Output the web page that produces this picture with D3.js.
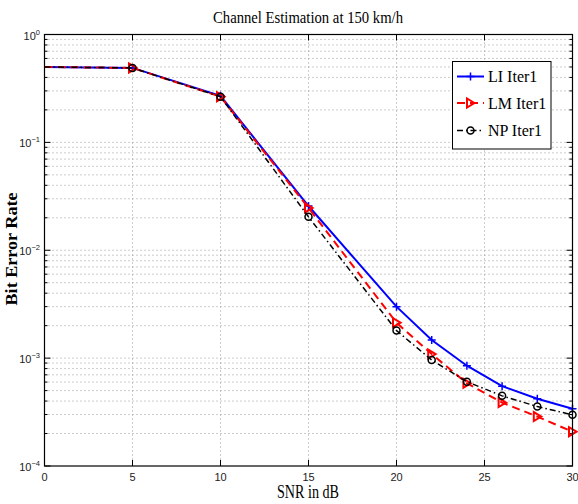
<!DOCTYPE html>
<html>
<head>
<meta charset="utf-8">
<script src="https://cdn.jsdelivr.net/npm/d3@7"></script>
<style>
body { margin: 0; background: #fff; }
</style>
</head>
<body>
<div id="chart"></div>
<script>
var snr = [0, 5, 10, 15, 20, 22, 24, 26, 28, 30]
var li = [0.50, 0.49, 0.27, 0.0257, 0.0030, 0.00147, 0.00085, 0.00055, 0.00042, 0.00034]
var lm = [0.50, 0.49, 0.265, 0.0247, 0.00213, 0.00109, 0.000585, 0.000387, 0.000287, 0.000208]
var np = [0.50, 0.49, 0.265, 0.0204, 0.0018, 0.00096, 0.000605, 0.000447, 0.000356, 0.000298]
var seriesNames = ['LI Iter1', 'LM Iter1', 'NP Iter1']
var xTicks = [0, 5, 10, 15, 20, 25, 30]
var yExps = [0, -1, -2, -3, -4]

var W = 578, H = 504
var pL = 44.5, pR = 572.5, pT = 34.5, pB = 466

var svg = d3.select('#chart').append('svg').attr('width', W).attr('height', H)

var x = d3.scaleLinear().domain([0, 30]).range([pL, pR])
var y = d3.scaleLog().domain([1e-4, 1]).range([pB, pT])

// grid
var minor = []
for (var e = -4; e < 0; e++) {
	for (var m = 1; m < 10; m++) minor.push(m * Math.pow(10, e))
}
svg.append('g').selectAll('line').data(minor.slice(1)).enter().append('line')
	.attr('x1', pL).attr('x2', pR)
	.attr('y1', function(d){return y(d)}).attr('y2', function(d){return y(d)})
	.attr('stroke', '#999').attr('stroke-width', 1).attr('stroke-dasharray', '1,3')
svg.append('g').selectAll('line').data(xTicks.slice(1, -1)).enter().append('line')
	.attr('y1', pT).attr('y2', pB)
	.attr('x1', function(d){return x(d)}).attr('x2', function(d){return x(d)})
	.attr('stroke', '#999').attr('stroke-width', 1).attr('stroke-dasharray', '1,3')

// ticks
var ticks = svg.append('g').attr('stroke', '#000').attr('stroke-width', 1)
xTicks.forEach(function(t) {
	ticks.append('line').attr('x1', x(t)).attr('x2', x(t)).attr('y1', pB).attr('y2', pB - 6)
	ticks.append('line').attr('x1', x(t)).attr('x2', x(t)).attr('y1', pT).attr('y2', pT + 6)
})
minor.forEach(function(d, i) {
	var len = (i % 9 == 0) ? 6 : 3
	ticks.append('line').attr('x1', pL).attr('x2', pL + len).attr('y1', y(d)).attr('y2', y(d))
	ticks.append('line').attr('x1', pR).attr('x2', pR - len).attr('y1', y(d)).attr('y2', y(d))
})

// tick labels
svg.append('g').selectAll('text').data(xTicks).enter().append('text')
	.attr('x', function(d){return x(d)}).attr('y', 481)
	.attr('text-anchor', 'middle')
	.attr('font-family', 'Liberation Sans, Arial, sans-serif').attr('font-size', 11)
	.attr('fill', '#222')
	.text(function(d){return d})

var yl = svg.append('g').selectAll('text').data(yExps).enter().append('text')
	.attr('x', 40).attr('y', function(d){return y(Math.pow(10, d)) + 5})
	.attr('text-anchor', 'end')
	.attr('font-family', 'Liberation Sans, Arial, sans-serif').attr('font-size', 11)
	.attr('fill', '#222')
yl.append('tspan').text('10')
yl.append('tspan').attr('dy', -5).attr('font-size', 7.5)
	.text(function(d){return d == 0 ? '0' : '\u2212' + (-d)})

// lines
var line = d3.line().x(function(d){return x(d[0])}).y(function(d){return y(d[1])})
function pts(vals) { return snr.map(function(s, i){return [s, vals[i]]}) }

var styles = [
	{color: '#0000ff', width: 2, dash: null, marker: 'plus'},
	{color: '#ff0000', width: 2, dash: '8,5', marker: 'tri'},
	{color: '#000000', width: 1.5, dash: '6,3,1.5,3', marker: 'circle'}
]
var allData = [li, lm, np]

function drawMarker(g, kind, cx, cy, color) {
	if (kind == 'plus') {
		g.append('path').attr('d', 'M' + (cx - 4) + ',' + cy + 'H' + (cx + 4) + 'M' + cx + ',' + (cy - 4) + 'V' + (cy + 4))
			.attr('stroke', color).attr('stroke-width', 1.5).attr('fill', 'none')
	} else if (kind == 'tri') {
		g.append('path').attr('d', 'M' + (cx + 4) + ',' + cy + 'L' + (cx - 3.5) + ',' + (cy - 4.5) + 'L' + (cx - 3.5) + ',' + (cy + 4.5) + 'Z')
			.attr('stroke', color).attr('stroke-width', 2).attr('fill', 'none')
	} else {
		g.append('circle').attr('cx', cx).attr('cy', cy).attr('r', 3.5)
			.attr('stroke', color).attr('stroke-width', 1.5).attr('fill', 'none')
	}
}

allData.forEach(function(vals, i) {
	var st = styles[i]
	var g = svg.append('g')
	g.append('path').datum(pts(vals)).attr('d', line)
		.attr('fill', 'none').attr('stroke', st.color).attr('stroke-width', st.width)
		.attr('stroke-dasharray', st.dash)
	pts(vals).forEach(function(p) {
		if (p[0] > 0) drawMarker(g, st.marker, x(p[0]), y(p[1]), st.color)
	})
})

// axes box
svg.append('rect').attr('x', pL).attr('y', pT).attr('width', pR - pL).attr('height', pB - pT)
	.attr('fill', 'none').attr('stroke', '#000').attr('stroke-width', 1.2)

// legend
var lg = svg.append('g')
lg.append('rect').attr('x', 452.5).attr('y', 61.5).attr('width', 98.5).attr('height', 87.5)
	.attr('fill', '#fff').attr('stroke', '#000').attr('stroke-width', 1)
var rowY = [76.5, 103, 130.5]
seriesNames.forEach(function(name, i) {
	var st = styles[i]
	lg.append('line').attr('x1', 457).attr('x2', 484).attr('y1', rowY[i]).attr('y2', rowY[i])
		.attr('stroke', st.color).attr('stroke-width', st.width).attr('stroke-dasharray', st.dash)
	drawMarker(lg, st.marker, 470.5, rowY[i], st.color)
	lg.append('text').attr('x', 488).attr('y', rowY[i] + 5.5)
		.attr('font-family', 'Liberation Serif, Times New Roman, serif').attr('font-size', 16)
		.text(name)
})

// title and labels
svg.append('text').attr('x', 308).attr('y', 23).attr('text-anchor', 'middle')
	.attr('font-family', 'Liberation Serif, Times New Roman, serif').attr('font-size', 16)
	.attr('textLength', 190).attr('lengthAdjust', 'spacingAndGlyphs')
	.text('Channel Estimation at 150 km/h')
svg.append('text').attr('x', 308).attr('y', 498).attr('text-anchor', 'middle')
	.attr('font-family', 'Liberation Serif, Times New Roman, serif').attr('font-size', 18)
	.attr('textLength', 62).attr('lengthAdjust', 'spacingAndGlyphs')
	.text('SNR in dB')
svg.append('text').attr('transform', 'translate(17,249) rotate(-90)').attr('text-anchor', 'middle')
	.attr('font-family', 'Liberation Serif, Times New Roman, serif').attr('font-size', 16)
	.attr('font-weight', 'bold')
	.attr('textLength', 113).attr('lengthAdjust', 'spacingAndGlyphs')
	.text('Bit Error Rate')
</script>
</body>
</html>
